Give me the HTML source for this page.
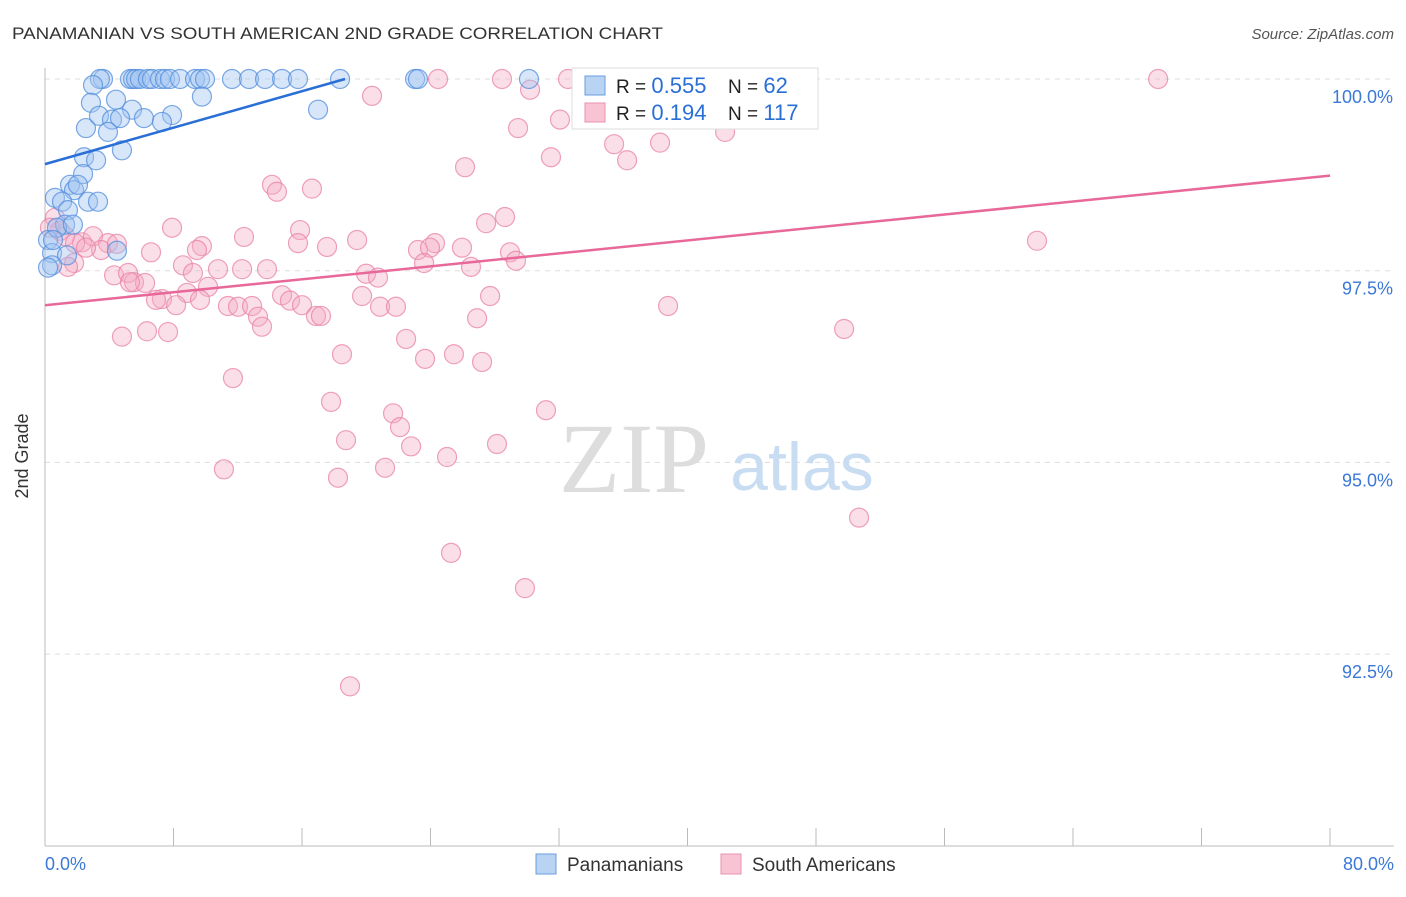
<!DOCTYPE html>
<html><head><meta charset="utf-8"><style>
body{margin:0;background:#fff;font-family:"Liberation Sans",sans-serif;}
svg text{font-family:"Liberation Sans",sans-serif;}
svg text.serif{font-family:"Liberation Serif",serif;}
</style></head><body>
<svg id="chart" width="1406" height="892">
<text x="12" y="39" font-size="17" fill="#333" textLength="651" lengthAdjust="spacingAndGlyphs">PANAMANIAN VS SOUTH AMERICAN 2ND GRADE CORRELATION CHART</text>
<text x="1394" y="39" font-size="15" fill="#555" text-anchor="end" font-style="italic">Source: ZipAtlas.com</text>
<g id="grid"></g>
<text class="serif" x="634" y="492" font-size="100" fill="#ddd" text-anchor="middle">ZIP</text>
<text x="802" y="490" font-size="68" fill="#c8dcf2" text-anchor="middle">atlas</text>
<g id="axes"></g>
<g id="pts"></g>
<g id="trends"></g>
<text x="28" y="456" font-size="18" fill="#333" text-anchor="middle" transform="rotate(-90 28 456)">2nd Grade</text>
<g>
<rect x="572" y="68" width="246" height="61" fill="#fff" stroke="#ddd"/>
<rect x="585" y="76" width="20" height="19" fill="#b9d3f3" stroke="#6a9ee0"/>
<rect x="585" y="103" width="20" height="19" fill="#f8c4d4" stroke="#e890b0"/>
<text x="616" y="93" font-size="19" fill="#222">R = <tspan fill="#2a6fd6" font-size="22">0.555</tspan></text>
<text x="728" y="93" font-size="19" fill="#222">N =  <tspan fill="#2a6fd6" font-size="22">62</tspan></text>
<text x="616" y="120" font-size="19" fill="#222">R =  <tspan fill="#2a6fd6" font-size="22">0.194</tspan></text>
<text x="728" y="120" font-size="19" fill="#222">N = <tspan fill="#2a6fd6" font-size="22">117</tspan></text>
</g>
<g>
<rect x="536" y="854" width="20" height="20" fill="#b9d3f3" stroke="#6a9ee0"/>
<text x="567" y="871" font-size="19" fill="#333">Panamanians</text>
<rect x="721" y="854" width="20" height="20" fill="#f8c4d4" stroke="#e890b0"/>
<text x="752" y="871" font-size="19" fill="#333">South Americans</text>
</g>
</svg>
<script>
const blueX=[3.61,3.42,5.29,5.48,5.67,5.91,6.41,6.66,7.16,7.47,7.78,8.41,9.34,9.65,9.96,11.64,12.70,13.70,14.76,15.75,18.37,23.04,23.22,30.13,43.58,2.99,9.77,2.86,4.42,5.42,17.00,2.55,3.36,4.17,4.67,6.16,7.91,7.28,3.92,4.79,2.43,3.18,2.37,1.56,1.81,2.05,0.62,1.06,1.43,2.68,3.30,1.25,0.19,0.75,1.74,0.44,1.37,4.48,0.44,0.19,0.50];
const blueY=[100,100,100,100,100,100,100,100,100,100,100,100,100,100,100,100,100,100,100,100,100,100,100,100,100,99.92,99.77,99.69,99.73,99.60,99.60,99.36,99.52,99.47,99.49,99.49,99.53,99.44,99.31,99.07,98.98,98.94,98.76,98.62,98.55,98.62,98.45,98.40,98.29,98.40,98.40,98.10,97.90,98.06,98.10,97.73,97.70,97.76,97.57,97.54,97.90];
const pinkX=[69.30,24.47,28.45,32.56,30.20,20.36,32.06,29.45,35.43,38.29,42.34,31.50,36.24,26.15,14.13,14.44,16.62,28.64,27.46,7.91,15.88,19.43,12.39,24.28,23.22,23.97,25.96,28.95,29.32,15.75,17.56,9.77,9.46,6.60,2.30,2.99,3.92,3.49,4.48,1.81,1.43,8.59,10.77,12.27,13.82,23.60,26.52,19.99,20.73,4.30,5.17,5.54,6.23,9.21,10.15,8.84,7.28,6.91,11.39,12.02,12.89,14.76,15.25,16.00,16.87,17.18,13.26,13.51,19.74,20.86,21.85,27.71,26.90,38.79,49.75,4.79,6.35,7.66,22.48,18.49,23.66,25.46,27.21,11.70,17.81,21.67,22.10,18.74,22.79,28.14,31.19,25.03,21.17,11.14,18.24,50.68,25.28,29.88,18.99,61.76,0.62,0.93,0.31,1.25,1.87,2.55,5.29,9.65,8.16];
const pinkY=[100,100,100,100,99.86,99.78,99.47,99.36,99.15,99.17,99.31,98.98,98.94,98.85,98.62,98.53,98.57,98.20,98.12,98.06,98.03,97.90,97.94,97.86,97.77,97.80,97.80,97.74,97.63,97.86,97.81,97.82,97.77,97.74,97.87,97.95,97.86,97.77,97.85,97.60,97.55,97.57,97.52,97.52,97.52,97.60,97.55,97.46,97.41,97.44,97.47,97.35,97.34,97.47,97.29,97.21,97.13,97.12,97.04,97.03,97.04,97.18,97.11,97.05,96.91,96.91,96.90,96.77,97.17,97.03,97.03,97.17,96.88,97.04,96.74,96.64,96.71,96.70,96.61,96.41,96.35,96.41,96.31,96.10,95.79,95.64,95.46,95.29,95.21,95.24,95.68,95.07,94.93,94.91,94.80,94.28,93.82,93.36,92.08,97.89,98.19,98.02,98.06,97.95,97.86,97.80,97.35,97.12,97.05];
const blueTrendX=[0,18.68];
const blueTrendY=[98.89,100];
const pinkTrendX=[0,80];
const pinkTrendY=[97.05,98.74];
const yTicks=[100,97.5,95,92.5];
const yTickLabels=["100.0%","97.5%","95.0%","92.5%"];
const xTicks=[0,8,16,24,32,40,48,56,64,72,80];

const NS="http://www.w3.org/2000/svg";
const X0=45,X1=1330,Y100=79,PX_PER_PCT=76.68;
function sx(v){return X0+(v/80)*(X1-X0);}
function sy(v){return Y100+(100-v)*PX_PER_PCT;}
function mk(tag,attrs,parent){const e=document.createElementNS(NS,tag);for(const k in attrs)e.setAttribute(k,attrs[k]);parent.appendChild(e);return e;}

const grid=document.getElementById('grid');
yTicks.forEach((t,i)=>{
  const l=mk('line',{x1:X0,x2:1394,y1:sy(t),y2:sy(t),stroke:'#ddd','stroke-dasharray':'5,5'},grid);
  
  
  const tx=mk('text',{x:1393,y:sy(t)+24,'font-size':18,fill:'#3b78d8','text-anchor':'end'},grid);
  tx.textContent=yTickLabels[i];
  
  
});
const axes=document.getElementById('axes');
let a=mk('line',{x1:X0,x2:X0,y1:68,y2:846,stroke:'#bbb'},axes);


a=mk('line',{x1:X0,x2:1394,y1:846,y2:846,stroke:'#bbb'},axes);


xTicks.forEach(t=>{
  const l=mk('line',{x1:sx(t),x2:sx(t),y1:828,y2:846,stroke:'#bbb'},axes);
  
  
});
let xl=mk('text',{x:45,y:870,'font-size':18,fill:'#3b78d8'},axes);
xl.textContent='0.0%';


xl=mk('text',{x:1394,y:870,'font-size':18,fill:'#3b78d8','text-anchor':'end'},axes);
xl.textContent='80.0%';



const pts=document.getElementById('pts');
pinkX.forEach((v,i)=>{
  const c=mk('circle',{cx:sx(v),cy:sy(pinkY[i]),r:9.5,fill:'rgba(245,170,195,0.38)',stroke:'rgba(232,130,165,0.75)','stroke-width':1.2},pts);
  
  
});
blueX.forEach((v,i)=>{
  const c=mk('circle',{cx:sx(v),cy:sy(blueY[i]),r:9.5,fill:'rgba(160,195,240,0.42)',stroke:'rgba(80,140,220,0.75)','stroke-width':1.2},pts);
  
  
});
const tr=document.getElementById('trends');
let t1=mk('line',{x1:sx(blueTrendX[0]),y1:sy(blueTrendY[0]),x2:sx(blueTrendX[1]),y2:sy(blueTrendY[1]),stroke:'#2a6fd6','stroke-width':2.5},tr);


let t2=mk('line',{x1:sx(pinkTrendX[0]),y1:sy(pinkTrendY[0]),x2:sx(pinkTrendX[1]),y2:sy(pinkTrendY[1]),stroke:'#e8689a','stroke-width':2.5},tr);


</script>
</body></html>
